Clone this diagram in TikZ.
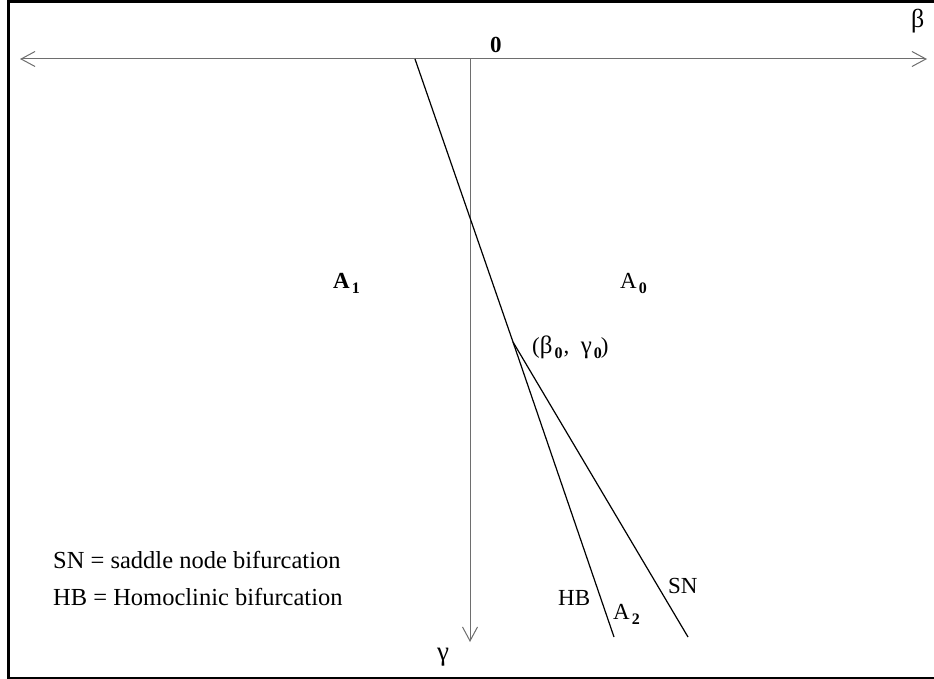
\documentclass[tikz,border=0pt]{standalone}
\usepackage{fontspec}
\setmainfont{Liberation Serif}
\usetikzlibrary{arrows.meta}
\definecolor{axisgray}{RGB}{110,110,110}
\newcommand{\subb}[1]{\kern2pt\raisebox{-5pt}{\fontsize{16}{16}\selectfont\bfseries #1}}
\newcommand{\grk}[1]{{\fontsize{25}{27}\selectfont #1}}
\tikzset{tipb/.tip={Straight Barb[length=14pt,width=15pt,line width=1pt]}}
\begin{document}
\begin{tikzpicture}[x=1pt,y=-1pt,
  axis/.style={draw=axisgray, line width=1pt},
  curve/.style={draw=black, line width=1.2pt},
  lbl/.style={inner sep=0pt, anchor=base west, font=\fontsize{23}{27}\selectfont},
  legend/.style={inner sep=0pt, anchor=base west, font=\fontsize{24.5}{28}\selectfont}]
\useasboundingbox (0,0) rectangle (934,679);
% frame
\draw[line width=3pt] (934,1.5) -- (8.5,1.5) -- (8.5,679);
\draw[line width=2pt] (7,678) -- (934,678);
% axes
\coordinate (L) at (20,59);
\coordinate (R) at (927,59);
\coordinate (O) at (470,59);
\coordinate (D) at (470,642);
\draw[axis, tipb-tipb] (L) -- (R);
\draw[axis, -tipb] (O) -- (D);
% bifurcation curves
\coordinate (T) at (415,59);
\coordinate (X) at (513,342);
\coordinate (HBe) at (614,637);
\coordinate (SNe) at (688,637);
\draw[curve] (T) -- (X) -- (HBe);
\draw[curve] (X) -- (SNe);
% labels
\node[lbl, font=\fontsize{23}{27}\selectfont\bfseries] (zero) at (490,53) {0};
\node[lbl, font=\fontsize{26}{28}\selectfont] (beta) at (911,28) {β};
\node[lbl, font=\fontsize{27}{29}\selectfont] (gamma) at (437,660) {γ};
\node[lbl] (A1) at (333,288) {\textbf{A}\subb{1}};
\node[lbl] (A0) at (620,288) {A\subb{0}};
\node[lbl] (pt) at (532,353) {(\grk{β}\subb{0}\kern1pt,\ \ \grk{γ}\subb{0}\kern-1pt)};
\node[lbl] (HB) at (558,605) {HB};
\node[lbl] (A2) at (613,619) {A\subb{2}};
\node[lbl] (SN) at (668,593) {SN};
\node[legend] (leg1) at (53,568) {SN = saddle node bifurcation};
\node[legend] (leg2) at (53,605) {HB = Homoclinic bifurcation};
\end{tikzpicture}
\end{document}
